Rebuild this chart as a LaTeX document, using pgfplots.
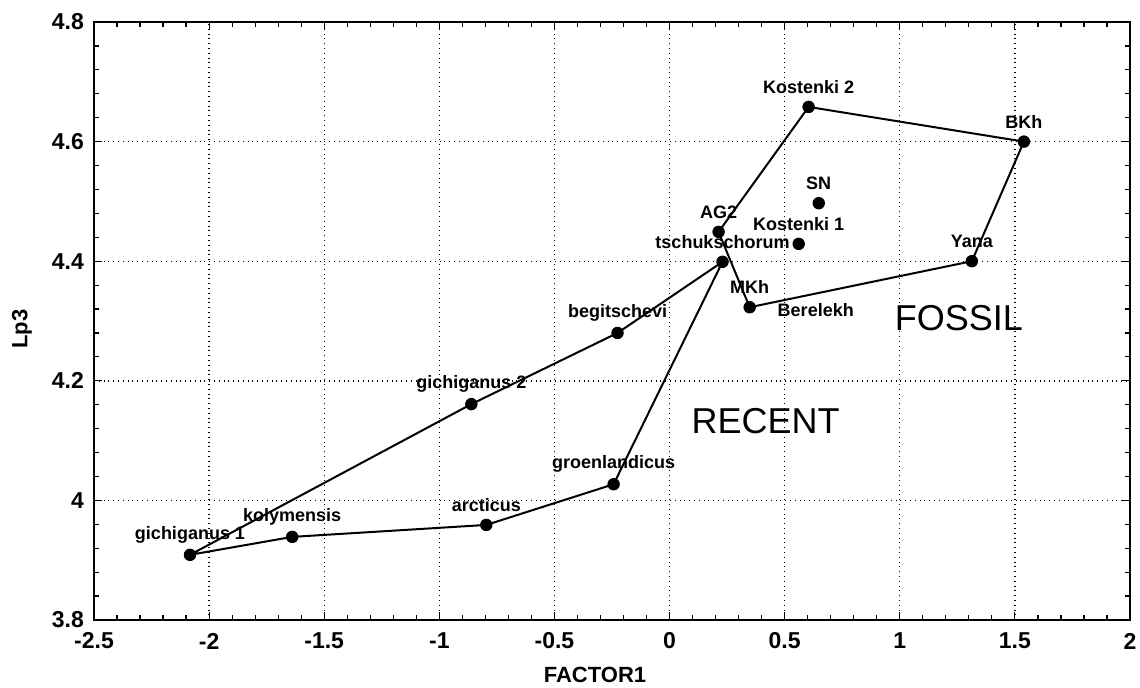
\documentclass[border=0pt]{standalone}
\usepackage{fontspec}
\setmainfont{Liberation Sans}
\usepackage{pgfplots}
\pgfplotsset{compat=1.18}

\begin{document}
\begin{tikzpicture}
\begin{axis}[
  name=ax,
  scale only axis,
  width=518pt, height=299pt,
  xmin=-2.5, xmax=2, ymin=3.8, ymax=4.8,
  xtick={-2.5,-2,-1.5,-1,-0.5,0,0.5,1,1.5,2},
  ytick={3.8,4,4.2,4.4,4.6,4.8},
  minor x tick num=4,
  minor y tick num=4,
  tick align=inside,
  major tick length=4pt,
  minor tick length=2.5pt,
  tick style={black, line width=0.6pt},
  xmajorgrids, ymajorgrids,
  major grid style={black, dotted, line width=0.7pt},
  axis line style={black, line width=1.1pt},
  /pgf/number format/assume math mode=true,
  ticklabel style={font=\fontsize{11.5}{13}\selectfont\bfseries},
  xticklabel style={anchor=center, yshift=-10.5pt},
  yticklabel style={anchor=east, xshift=-1.5pt},
  xlabel={FACTOR1},
  ylabel={Lp3},
  label style={font=\fontsize{11}{13}\selectfont\bfseries},
  xlabel style={at={(axis description cs:0.4836,0)}, anchor=center, yshift=-27.5pt},
  ylabel style={at={(axis description cs:0,0.4866)}, anchor=center, yshift=36pt},
  clip=false,
]
% RECENT polygon
\addplot[black, line width=1pt, mark=none] coordinates {
  (-2.083,3.909) (-0.861,4.161) (-0.226,4.280) (0.230,4.399)
  (-0.243,4.027) (-0.796,3.959) (-1.639,3.939) (-2.083,3.909)
};
% FOSSIL polygon
\addplot[black, line width=1pt, mark=none] coordinates {
  (0.213,4.449) (0.604,4.658) (1.539,4.600) (1.313,4.400)
  (0.348,4.323) (0.213,4.449)
};
% points with labels above
\addplot[only marks, mark=*, mark size=2.9pt, black,
  nodes near coords, point meta=explicit symbolic,
  every node near coord/.append style={anchor=center, yshift=10pt,
    font=\fontsize{9}{10}\selectfont\bfseries, text=black}]
  table[col sep=comma, meta=label] {
x,y,label
-2.083,3.909,gichiganus 1
-1.639,3.939,kolymensis
-0.796,3.959,arcticus
-0.243,4.027,groenlandicus
-0.861,4.161,gichiganus 2
-0.226,4.280,begitschevi
0.230,4.399,tschukschorum
0.213,4.449,AG2
0.604,4.658,Kostenki 2
0.648,4.497,SN
0.561,4.429,Kostenki 1
0.348,4.323,MKh
1.539,4.600,BKh
1.313,4.400,Yana
};
% second label at the MKh point
\addplot[only marks, mark=none, draw=none,
  nodes near coords, point meta=explicit symbolic,
  every node near coord/.append style={anchor=west, xshift=10.5pt, yshift=-1.5pt,
    font=\fontsize{9}{10}\selectfont\bfseries, text=black}]
  table[col sep=comma, meta=label] {
x,y,label
0.348,4.323,Berelekh
};
\node[font=\fontsize{18}{20}\selectfont] at (axis cs:0.417,4.133) {RECENT};
\node[font=\fontsize{18}{20}\selectfont] at (axis cs:1.257,4.305) {FOSSIL};
\end{axis}
\pgfresetboundingbox
\path[use as bounding box] ([shift={(-47pt,-33.5pt)}]ax.south west) rectangle ([shift={(5pt,11pt)}]ax.north east);
\end{tikzpicture}
\end{document}
